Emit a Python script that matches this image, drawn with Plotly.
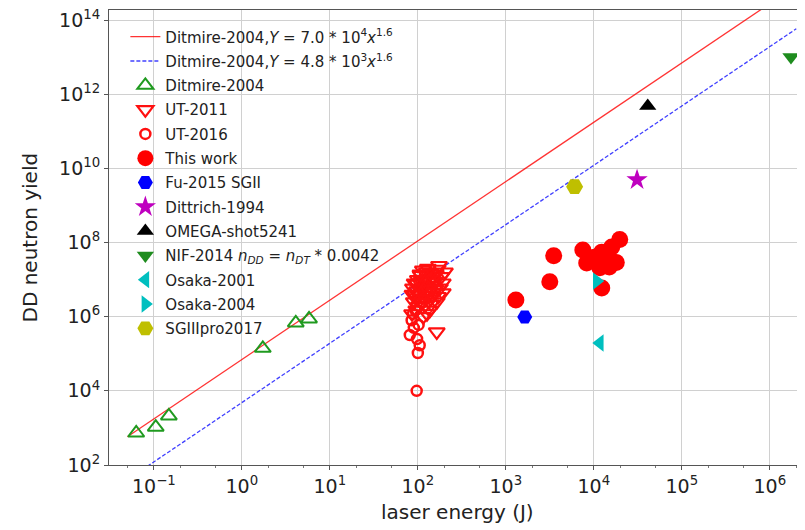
import plotly.graph_objects as go

# ---- data ----
fit_x = [0.05, 2.0e6]
fit_red_y = [5.8e2, 8.4e14]     # Y = 7.0e4 x^1.6
fit_blue_y = [4.0e1, 5.8e13]    # Y = 4.8e3 x^1.6

ditmire_x = [0.063, 0.105, 0.148, 1.73, 4.1, 5.8]
ditmire_y = [7.3e2, 1.05e3, 2.1e3, 1.4e5, 6.8e5, 8.7e5]

ut2011_x = [174, 203, 114, 148, 192, 88, 192, 164, 164, 137, 105, 124, 93, 145, 100, 130, 178, 120,
            110, 155, 96, 140, 185, 118, 160, 90, 98, 108, 126, 134, 150, 170, 86, 102, 115, 142,
            92, 112, 128, 95, 104, 118, 132, 146, 158, 122, 99, 111, 138, 152, 87, 107, 127, 168]
ut2011_y = [2.4e7, 1.6e7, 1.8e7, 1.2e7, 8.1e6, 5.9e6, 4.4e6, 2.5e6, 3.9e5, 1.5e6, 2.8e6, 7.0e6, 3.8e6,
            3.8e6, 1.0e7, 2.0e7, 5.9e6, 2.0e6, 9.0e6, 9.0e6, 1.5e6, 3.0e6, 1.2e7, 4.5e6, 1.4e7, 2.5e6,
            5.0e6, 1.3e7, 1.6e7, 5.0e6, 7.0e6, 3.5e6, 1.2e6, 1.9e6, 1.0e6, 2.2e6, 8.0e6, 6.0e6,
            1.1e7, 3.2e6, 4.0e6, 1.0e7, 8.5e6, 1.0e7, 5.5e6, 3.0e6, 7.5e6, 2.4e6, 1.5e7, 4.5e6,
            4.0e6, 1.4e7, 1.2e6, 1.9e7]

ut2016_x = [81, 105, 100, 97, 85, 94, 90, 102, 88, 98]
ut2016_y = [3.2e5, 1.7e5, 1.05e5, 1.0e4, 8.0e5, 1.5e6, 5.0e5, 6.0e5, 1.2e6, 2.5e5]

thiswork_x = [1300, 3160, 3500, 7500, 8300, 1.23e4, 1.23e4, 1.26e4, 1.6e4, 1.97e4, 1.8e4, 1.5e4,
              1.02e4, 1.17e4, 1.45e4]
thiswork_y = [2.8e6, 8.7e6, 4.4e7, 6.3e7, 2.8e7, 5.9e6, 5.5e7, 2.9e7, 7.6e7, 1.2e8, 2.9e7, 2.2e7,
              4.0e7, 2.1e7, 4.3e7]

fu_x, fu_y = [1640], [9.8e5]
dittrich_x, dittrich_y = [3.1e4], [4.9e9]
omega_x, omega_y = [4.1e4], [4.8e11]
nif_x, nif_y = [1.74e6], [1.0e13]
osaka01_x, osaka01_y = [1.17e4], [1.95e5]
osaka04_x, osaka04_y = [1.08e4], [9.1e6]
sgiii_x, sgiii_y = [6050], [3.2e9]

x_tickvals = [0.1, 1, 10, 100, 1e3, 1e4, 1e5, 1e6]
x_ticktext = ["10<sup>\u22121</sup>", "10<sup>0</sup>", "10<sup>1</sup>", "10<sup>2</sup>",
              "10<sup>3</sup>", "10<sup>4</sup>", "10<sup>5</sup>", "10<sup>6</sup>"]
y_tickvals = [1e2, 1e4, 1e6, 1e8, 1e10, 1e12, 1e14]
y_ticktext = ["10<sup>2</sup>", "10<sup>4</sup>", "10<sup>6</sup>", "10<sup>8</sup>",
              "10<sup>10</sup>", "10<sup>12</sup>", "10<sup>14</sup>"]

names = [
    "Ditmire-2004,<i>Y</i> = 7.0 * 10<sup>4</sup><i>x</i><sup>1.6</sup>",
    "Ditmire-2004,<i>Y</i> = 4.8 * 10<sup>3</sup><i>x</i><sup>1.6</sup>",
    "Ditmire-2004", "UT-2011", "UT-2016", "This work", "Fu-2015 SGII", "Dittrich-1994",
    "OMEGA-shot5241", "NIF-2014 <i>n<sub>DD</sub></i> = <i>n<sub>DT</sub></i> * 0.0042",
    "Osaka-2001", "Osaka-2004", "SGIIIpro2017",
]

fig = go.Figure()
fig.add_trace(go.Scatter(x=fit_x, y=fit_red_y, mode="lines", name=names[0], legendgroup="g0",
                         line=dict(color="rgba(255,0,0,0.8)", width=1.3)))
fig.add_trace(go.Scatter(x=fit_x, y=fit_blue_y, mode="lines", name=names[1], legendgroup="g1",
                         line=dict(color="rgba(0,0,255,0.75)", width=1.3, dash="4px,2px")))

def pts(x, y, name, symbol, color, size, lw=0, grp=""):
    fig.add_trace(go.Scatter(x=x, y=y, mode="markers", name=name, legendgroup=grp,
                             cliponaxis=False,
                             marker=dict(symbol=symbol, color=color, size=size,
                                         line=dict(width=lw, color=color))))

pts(ditmire_x, ditmire_y, names[2], "triangle-up-open", "#1f9a1f", 14, 2, "g2")
pts(ut2011_x, ut2011_y, names[3], "triangle-down-open", "#ff1010", 14, 2.2, "g3")
pts(ut2016_x, ut2016_y, names[4], "circle-open", "#ff1010", 10, 2.5, "g4")
pts(thiswork_x, thiswork_y, names[5], "circle", "#ff0000", 17, 0, "g5")
pts(fu_x, fu_y, names[6], "hexagon2", "#0000ff", 15, 0, "g6")
pts(dittrich_x, dittrich_y, names[7], "star", "#bf00bf", 16, 0, "g7")
pts(omega_x, omega_y, names[8], "triangle-up", "#000000", 15, 0, "g8")
pts(nif_x, nif_y, names[9], "triangle-down", "#1e8c1e", 15, 0, "g9")
pts(osaka01_x, osaka01_y, names[10], "triangle-left", "#00bfbf", 15, 0, "g10")
pts(osaka04_x, osaka04_y, names[11], "triangle-right", "#00bfbf", 15, 0, "g11")
pts(sgiii_x, sgiii_y, names[12], "hexagon2", "#bfbf00", 17, 0, "g12")

font = "DejaVu Sans, Verdana, sans-serif"
# the page body has an 8px default margin, so the figure is 8px smaller than the window
fig.update_layout(
    width=797, height=522,
    margin=dict(l=101, r=0, t=2, b=65),
    paper_bgcolor="white", plot_bgcolor="white",
    font=dict(family=font, color="#222"),
    showlegend=True,
    legend=dict(x=0.0235, y=0.977, xanchor="left", yanchor="top",
                bgcolor="rgba(0,0,0,0)", borderwidth=0,
                font=dict(size=15, family=font, color="#222"),
                tracegroupgap=1.8),
    annotations=[
        dict(text="laser energy (J)", xref="paper", yref="paper", x=0.5, y=0,
             yshift=-47, yanchor="middle", showarrow=False,
             font=dict(size=20, family=font, color="#222")),
        dict(text="DD neutron yield", xref="paper", yref="paper", x=0, y=0.5,
             xshift=-80, xanchor="center", yanchor="middle", textangle=-90, showarrow=False,
             font=dict(size=20, family=font, color="#222")),
    ],
)
fig.update_xaxes(
    type="log", range=[-1.51, 6.40], tickvals=x_tickvals, ticktext=x_ticktext,
    showgrid=True, gridcolor="#d0d0d0", gridwidth=1,
    showline=True, linecolor="#555", linewidth=1, mirror=True,
    ticks="outside", ticklen=4, tickcolor="#555", ticklabeloverflow="allow",
    tickfont=dict(size=19, family=font, color="#222"),
    minor=dict(ticks="outside", ticklen=2, tickcolor="#777", showgrid=False),
    zeroline=False,
)
fig.update_yaxes(
    type="log", range=[2, 14.27], tickvals=y_tickvals, ticktext=y_ticktext,
    showgrid=True, gridcolor="#d0d0d0", gridwidth=1,
    showline=True, linecolor="#555", linewidth=1, mirror=True,
    ticks="outside", ticklen=4, tickcolor="#555", ticklabeloverflow="allow",
    tickfont=dict(size=19, family=font, color="#222"),
    zeroline=False,
)

fig.write_html("out.html")
